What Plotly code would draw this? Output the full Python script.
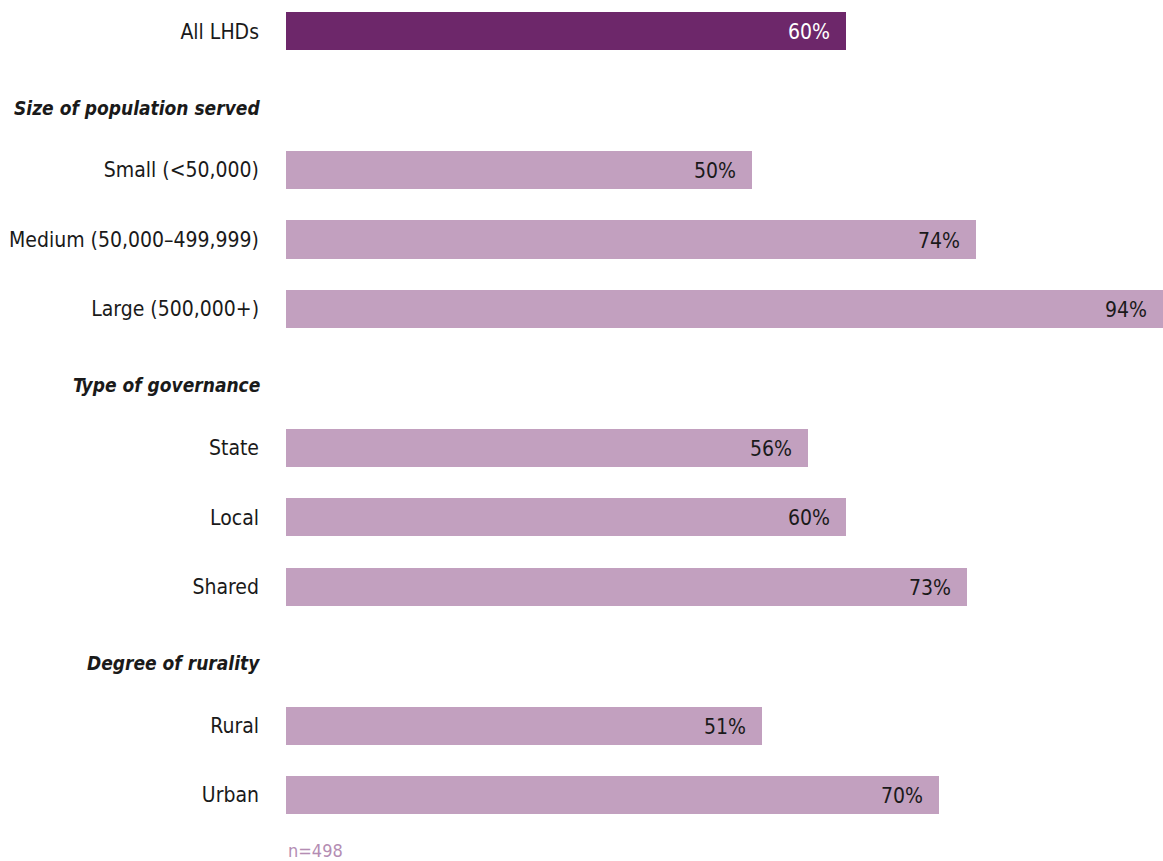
import plotly.graph_objects as go

# Share of LHDs, by LHD characteristic
categories = ["All LHDs", "Small (<50,000)", "Medium (50,000–499,999)", "Large (500,000+)",
              "State", "Local", "Shared", "Rural", "Urban"]
values = [60, 50, 74, 94, 56, 60, 73, 51, 70]
row_pos = [0, 2, 3, 4, 6, 7, 8, 10, 11]

group_titles = ["Size of population served", "Type of governance", "Degree of rurality"]
group_pos = [1.1, 5.1, 9.1]

sample_note = "n=498"

DARK = "#6D276A"
LIGHT = "#C2A0BF"
FONT = "Liberation Sans Narrow, DejaVu Sans Condensed, Arial Narrow, sans-serif"

bar_colors = [DARK] + [LIGHT] * (len(values) - 1)
text_colors = ["white"] + ["#1a1a1a"] * (len(values) - 1)

fig = go.Figure(go.Bar(
    x=values, y=row_pos, orientation="h",
    marker=dict(color=bar_colors, line=dict(width=0)),
    width=0.55, hoverinfo="skip",
))

# value labels just inside the bar ends
for v, p, c in zip(values, row_pos, text_colors):
    fig.add_annotation(x=v, y=p, xref="x", yref="y", text=f"{v}%",
                       showarrow=False, xanchor="right", xshift=-14, yshift=-1,
                       font=dict(family=FONT, size=21, color=c))

# group headings, right-aligned with the category labels
for t, p in zip(group_titles, group_pos):
    fig.add_annotation(x=0, y=p, xref="paper", yref="y", text=f"<b><i>{t}</i></b>",
                       showarrow=False, xanchor="right", xshift=-24,
                       font=dict(family=FONT, size=19, color="#1a1a1a"))

fig.add_annotation(x=0, y=0, xref="x", yref="paper", text=sample_note, showarrow=False,
                   xanchor="left", yanchor="bottom", yshift=-2,
                   font=dict(family=FONT, size=18, color="#B48DB3"))

fig.update_layout(
    width=1163, height=861,
    margin=dict(l=286, r=0, t=0, b=0),
    paper_bgcolor="white", plot_bgcolor="white",
    showlegend=False, bargap=0,
    font=dict(family=FONT, size=21, color="#1a1a1a"),
    xaxis=dict(range=[0, 94], visible=False, fixedrange=True, automargin=False),
    yaxis=dict(range=[11.95, -0.45], tickvals=row_pos, ticktext=categories,
               showgrid=False, zeroline=False, showline=False, ticks="",
               ticklabelstandoff=26, automargin=False,
               tickfont=dict(family=FONT, size=21, color="#1a1a1a"),
               fixedrange=True),
)

fig.write_html("out.html")
